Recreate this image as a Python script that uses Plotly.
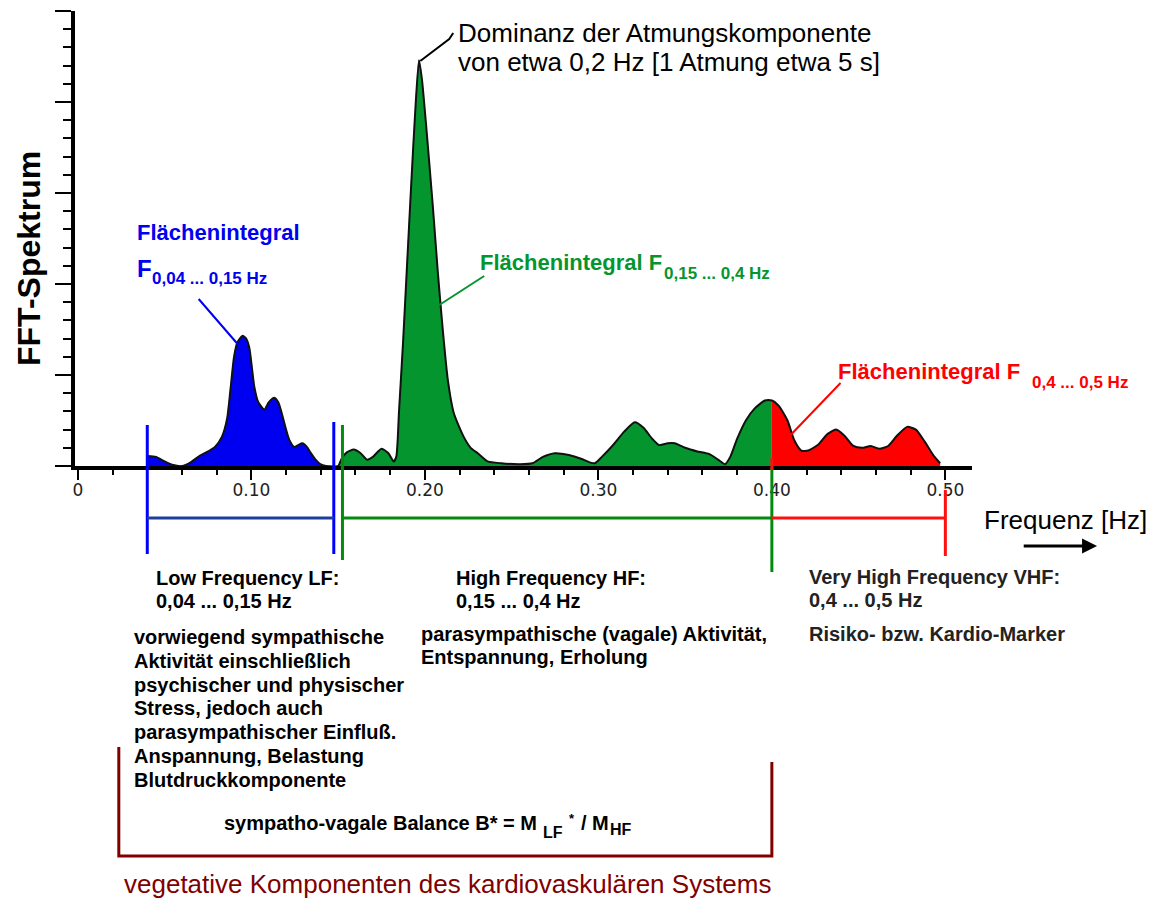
import plotly.graph_objects as go
import numpy as np

# spectrum (Hz, arbitrary power units)
freq = [0.040, 0.045, 0.050, 0.055, 0.060, 0.065, 0.070, 0.075, 0.079, 0.083,
        0.086, 0.088, 0.090, 0.092, 0.0948, 0.097, 0.0988, 0.1005, 0.1017, 0.104,
        0.1075, 0.110, 0.1132, 0.1155, 0.1175, 0.120, 0.1218, 0.1247, 0.127, 0.1293,
        0.132, 0.134, 0.137, 0.1397, 0.143, 0.150,
        0.152, 0.155, 0.159, 0.163, 0.1667, 0.170, 0.175, 0.179, 0.182, 0.1835,
        0.1851, 0.1874, 0.1897, 0.1920, 0.1943, 0.1966, 0.1983, 0.2006, 0.2046, 0.2075,
        0.2103, 0.2132, 0.2167, 0.2224, 0.2264, 0.2305, 0.2362, 0.244, 0.255, 0.262,
        0.268, 0.275, 0.283, 0.290, 0.295, 0.298, 0.302, 0.308, 0.315, 0.321,
        0.326, 0.331, 0.335, 0.340, 0.344, 0.350, 0.357, 0.364, 0.369, 0.373,
        0.376, 0.380, 0.385, 0.390, 0.396, 0.400,
        0.404, 0.409, 0.413, 0.417, 0.421, 0.427, 0.432, 0.437, 0.442, 0.447,
        0.452, 0.457, 0.462, 0.467, 0.472, 0.478, 0.483, 0.488, 0.493, 0.497]
power = [0.11, 0.10, 0.05, 0.01, 0.00, 0.04, 0.11, 0.16, 0.21, 0.32,
         0.52, 0.85, 1.20, 1.36, 1.43, 1.40, 1.30, 1.05, 0.87, 0.70,
         0.62, 0.70, 0.75, 0.70, 0.58, 0.40, 0.29, 0.21, 0.23, 0.25,
         0.21, 0.15, 0.07, 0.02, 0.00, 0.00,
         0.08, 0.15, 0.18, 0.14, 0.07, 0.10, 0.19, 0.14, 0.05, 0.10,
         0.60, 1.35, 2.20, 3.05, 3.85, 4.46, 4.25, 3.77, 2.85, 2.12,
         1.50, 0.95, 0.58, 0.32, 0.20, 0.14, 0.05, 0.03, 0.02, 0.03,
         0.10, 0.14, 0.12, 0.08, 0.04, 0.03, 0.10, 0.22, 0.38, 0.48,
         0.42, 0.30, 0.23, 0.25, 0.25, 0.20, 0.16, 0.13, 0.07, 0.02,
         0.10, 0.30, 0.50, 0.63, 0.72, 0.72,
         0.66, 0.50, 0.28, 0.17, 0.17, 0.24, 0.35, 0.40, 0.33, 0.22,
         0.20, 0.22, 0.19, 0.22, 0.33, 0.43, 0.40, 0.27, 0.12, 0.03]

band_names = ['LF', 'HF', 'VHF']
band_lo = [0.04, 0.15, 0.40]
band_hi = [0.15, 0.40, 0.50]
band_fill = ['#0000f0', '#05952f', '#ff0000']
band_line = ['#1f3f9c', '#058a10', '#ff1010']

xtick_vals = [0, 0.1, 0.2, 0.3, 0.4, 0.5]
xtick_text = ['0', '0.10', '0.20', '0.30', '0.40', '0.50']

# page geometry (pixels of the browser window; the page body adds an 8px margin)
W, H = 1157, 899
M = 8
FW, FH = W - 2 * M, H - M
X0_PX, HZ_PX = 76, 1738      # pixel of 0 Hz, pixels per Hz
BASE_PX, UNIT_PX = 466, 91   # baseline pixel, pixels per power unit


def hx(f):
    return X0_PX + HZ_PX * f


def px_x(p):
    return (p - M) / FW


def px_y(p):
    return 1 - (p - M) / FH


ARIAL = 'Liberation Sans, Arial, sans-serif'
NARROW = 'Liberation Sans Narrow, Arial Narrow, Liberation Sans, sans-serif'

f_arr = np.array(freq)
p_arr = np.array(power)

fig = go.Figure()
for i, name in enumerate(band_names):
    m = (f_arr >= band_lo[i]) & (f_arr <= band_hi[i])
    fig.add_trace(go.Scatter(
        x=f_arr[m], y=p_arr[m], mode='lines', fill='tozeroy',
        fillcolor=band_fill[i], line=dict(color=band_fill[i], width=0.5, shape='spline', smoothing=0.6),
        name=name, showlegend=False, hoverinfo='skip'))

fig.add_trace(go.Scatter(
    x=freq, y=power, mode='lines',
    line=dict(color='#111111', width=2, shape='spline', smoothing=0.6),
    showlegend=False, hoverinfo='skip'))

# invisible full-page axes for text and brackets
fig.add_trace(go.Scatter(x=[W / 2], y=[H / 2], xaxis='x2', yaxis='y2', mode='markers',
                         marker=dict(opacity=0), showlegend=False, hoverinfo='skip'))

fig.update_layout(
    width=FW, height=FH, autosize=False,
    margin=dict(l=0, r=0, t=0, b=0),
    paper_bgcolor='white', plot_bgcolor='rgba(0,0,0,0)',
    xaxis=dict(
        domain=[px_x(73), px_x(972)],
        range=[(73 - X0_PX) / HZ_PX, (972 - X0_PX) / HZ_PX],
        showgrid=False, zeroline=False,
        showline=True, linecolor='black', linewidth=4,
        tickmode='array', tickvals=xtick_vals, ticktext=xtick_text,
        ticks='outside', ticklen=10, tickwidth=2, tickcolor='black',
        ticklabelstandoff=-4,
        tickfont=dict(family='DejaVu Sans, sans-serif', size=17, color='#222222'),
        minor=dict(dtick=0.02, tick0=0, ticks='outside', ticklen=5, tickwidth=1.5, tickcolor='black'),
    ),
    yaxis=dict(
        domain=[px_y(BASE_PX), px_y(BASE_PX - 5 * UNIT_PX)],
        range=[0, 5],
        showgrid=False, zeroline=False,
        showline=True, linecolor='black', linewidth=4,
        tickmode='linear', tick0=0, dtick=1,
        ticks='outside', ticklen=16, tickwidth=2, tickcolor='black',
        showticklabels=False,
        minor=dict(dtick=0.2, ticks='outside', ticklen=8, tickwidth=1.5, tickcolor='black'),
    ),
    xaxis2=dict(domain=[0, 1], range=[M, M + FW], visible=False, anchor='y2'),
    yaxis2=dict(domain=[0, 1], range=[M + FH, M], visible=False, anchor='x2'),
)


def text(x, y, s, size, color='black', family=ARIAL, bold=False, xanchor='left', angle=0):
    fig.add_annotation(x=x, y=y, xref='x2', yref='y2', text=s, showarrow=False,
                       xanchor=xanchor, yanchor='middle', textangle=angle,
                       font=dict(family=family, size=size, color=color,
                                 weight='bold' if bold else 'normal'))


def seg(pts, color, width):
    path = 'M ' + ' L '.join(f'{x},{y}' for x, y in pts)
    fig.add_shape(type='path', path=path, xref='x2', yref='y2',
                  line=dict(color=color, width=width))


# y-axis title
text(27, 258, 'FFT-Spektrum', 32, bold=True, xanchor='center', angle=-90)

# respiratory peak note
text(455, 33, 'Dominanz der Atmungskomponente', 26)
text(455, 62, 'von etwa 0,2 Hz [1 Atmung etwa 5 s]', 26)
seg([(419, 61), (448, 39), (452, 33)], 'black', 2)

# area integral labels
text(133, 232, 'Flächenintegral', 22, color='#0000f0', bold=True)
text(133, 268, 'F', 24, color='#0000f0', bold=True)
text(148, 278, '0,04 ... 0,15 Hz', 17, color='#0000f0', bold=True, family=NARROW)
seg([(197, 299), (236, 344)], '#0000f0', 2)

text(477, 262, 'Flächenintegral F', 22, color='#05952f', bold=True)
text(661, 273, '0,15 ... 0,4 Hz', 17, color='#05952f', bold=True, family=NARROW)
seg([(483, 276), (438, 305)], '#05952f', 2)

text(835, 371, 'Flächenintegral F', 22, color='#ff0000', bold=True)
text(1030, 382, '0,4 ... 0,5 Hz', 17, color='#ff0000', bold=True, family=NARROW)
seg([(840, 383), (790, 435)], '#ff0000', 2)

# frequency band markers
gap = 0.0025
for i in range(3):
    lo, hi = band_lo[i], band_hi[i]
    if i == 0:
        x_lo, x_hi = hx(lo), hx(hi - gap)
        seg([(x_lo, 425), (x_lo, 554)], '#0000ff', 3)
        seg([(x_hi, 422), (x_hi, 554)], '#0000ff', 3)
    elif i == 1:
        x_lo, x_hi = hx(lo + gap), hx(hi)
        seg([(x_lo, 425), (x_lo, 560)], band_line[1], 3)
        seg([(x_hi, 468), (x_hi, 572)], band_line[1], 3)
    else:
        x_lo, x_hi = hx(lo), hx(hi)
        seg([(x_lo, 458), (x_lo, 470)], band_line[2], 3)
        seg([(x_hi, 490), (x_hi, 556)], band_line[2], 3)
    seg([(x_lo, 518), (x_hi, 518)], band_line[i], 3)

# axis caption with arrow
text(982, 520, 'Frequenz [Hz]', 26)
fig.add_annotation(x=1097, y=546, ax=1022, ay=546, xref='x2', yref='y2', axref='x2', ayref='y2',
                   text='', showarrow=True, arrowhead=2, arrowsize=1, arrowwidth=3, arrowcolor='black')

# band descriptions
text(152, 578, 'Low Frequency LF:', 20, bold=True, family=NARROW)
text(152, 601, '0,04 ... 0,15 Hz', 20, bold=True, family=NARROW)
text(453, 578, 'High Frequency HF:', 20, bold=True, family=NARROW)
text(453, 601, '0,15 ... 0,4 Hz', 20, bold=True, family=NARROW)
text(806, 577, 'Very High Frequency VHF:', 20, bold=True, color='#222222')
text(806, 600, '0,4 ... 0,5 Hz', 20, bold=True, color='#222222')
text(806, 634, 'Risiko- bzw. Kardio-Marker', 20, bold=True, color='#222222')

lf_lines = ['vorwiegend sympathische', 'Aktivität einschließlich', 'psychischer und physischer',
            'Stress, jedoch auch', 'parasympathischer Einfluß.', 'Anspannung, Belastung',
            'Blutdruckkomponente']
for k, s in enumerate(lf_lines):
    text(130, 637 + k * 23.8, s, 20, bold=True, family=NARROW)

text(418, 634, 'parasympathische (vagale) Aktivität,', 20, bold=True, family=NARROW)
text(418, 657, 'Entspannung, Erholung', 20, bold=True, family=NARROW)

# sympatho-vagal balance bracket
seg([(117, 747), (117, 856), (hx(0.40), 856), (hx(0.40), 762)], '#800000', 3)
text(220, 823, 'sympatho-vagale Balance B* = M', 20, bold=True, family=NARROW)
text(540, 832, 'LF', 16, bold=True, family=NARROW)
text(566, 818, '*', 13, bold=True, family=NARROW)
text(578, 823, '/ M', 20, bold=True, family=NARROW)
text(607, 829, 'HF', 16, bold=True, family=NARROW)
text(120, 884, 'vegetative Komponenten des kardiovaskulären Systems', 26, color='#800000', family=NARROW)

fig.write_html('out.html')
